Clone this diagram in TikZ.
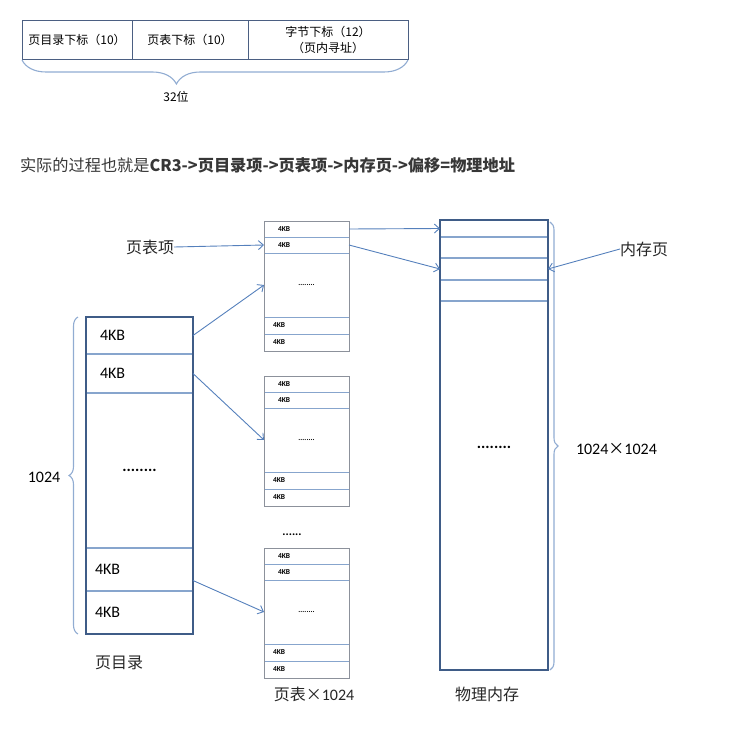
\documentclass[tikz,border=0pt]{standalone}
\usepackage{fontspec}
\setmainfont{Carlito}
\newfontfamily\cjk{Noto Sans CJK SC}
\usetikzlibrary{arrows.meta,decorations.pathreplacing,positioning}
\definecolor{framecol}{RGB}{63,92,135}
\definecolor{rowcol}{RGB}{135,165,205}
\definecolor{ptcol}{RGB}{140,145,155}
\definecolor{linkcol}{RGB}{85,128,188}
\definecolor{bracecol}{RGB}{145,172,210}
\definecolor{tablecol}{RGB}{75,95,130}
\definecolor{headcol}{RGB}{55,55,55}

\begin{document}
\begin{tikzpicture}
[x=1pt,y=-1pt,
 every node/.style={inner sep=0pt,outer sep=0pt},
 cell/.style={draw=tablecol,line width=0.8pt,minimum height=39pt,anchor=north west,align=center,font=\cjk\fontsize{12}{16}\selectfont},
 pdrow/.style={draw=rowcol,line width=1.2pt,minimum width=107pt,text width=79pt,align=left,font=\fontsize{16}{16}\selectfont},
 ptrow/.style={draw=rowcol,line width=1pt,minimum width=85pt,text width=61pt,align=left,font=\fontsize{7.5}{8}\selectfont\bfseries},
 pmrow/.style={draw=rowcol,line width=1.2pt,minimum width=108pt},
 pdframe/.style={draw=framecol,line width=1.8pt,minimum width=107pt},
 ptframe/.style={draw=ptcol,line width=1pt,minimum width=85pt},
 label/.style={font=\cjk\fontsize{16}{16}\selectfont,text=black!85},
 link/.style={draw=linkcol,line width=0.9pt,-{Straight Barb[length=5pt,width=9pt]}},
 bracket/.style={draw=bracecol,line width=1.1pt,decorate},
]
\useasboundingbox (0,0) rectangle (749,733);

% address layout
\node[cell,minimum width=110pt] (addr-a) at (22,20) {页目录下标（10）};
\node[cell,minimum width=116pt] (addr-b) at (addr-a.north east) {页表下标（10）};
\node[cell,minimum width=160pt] (addr-c) at (addr-b.north east) {字节下标（12）\\（页内寻址）};
\draw[bracket,decoration={brace,mirror,amplitude=24pt,aspect=0.4}]
  ([yshift=-1pt]addr-a.south west) -- ([yshift=-1pt]addr-c.south east);
\node[font=\cjk\fontsize{12}{12}\selectfont] (addr-bits) at (176,97) {32位};

\node[anchor=west,font=\cjk\fontsize{16.2}{18}\selectfont,text=headcol] (head) at (20,165)
  {实际的过程也就是\textbf{CR3->页目录项->页表项->内存页->偏移=物理地址}};

% page directory
\node[pdrow,minimum height=37pt,anchor=north] (pd-a) at (139.5,317) {4KB};
\node[pdrow,minimum height=39pt,below=0pt of pd-a] (pd-b) {4KB};
\node[pdrow,minimum height=155pt,below=0pt of pd-b,align=center] (pd-c) {\textbf{........}};
\node[pdrow,minimum height=43pt,below=0pt of pd-c] (pd-d) {\hspace*{-5pt}4KB};
\node[pdrow,minimum height=43pt,below=0pt of pd-d] (pd-e) {\hspace*{-5pt}4KB};
\node[pdframe,minimum height=317pt,anchor=north] (pd) at (139.5,317) {};
\draw[bracket,decoration={brace,amplitude=9pt}]
  ([xshift=-8pt]pd.south west) -- ([xshift=-8pt]pd.north west);
\node[font=\fontsize{16}{16}\selectfont] (pd-size) at (44,477) {1024};
\node[label] (pd-name) at (119,663) {页目录};

% page tables
\foreach \i/\ty in {1/221,2/376,3/548}{
  \node[ptrow,minimum height=16pt,anchor=north] (pt\i-a) at (306.5,\ty) {\hspace*{2pt}4KB};
  \node[ptrow,minimum height=16pt,below=0pt of pt\i-a] (pt\i-b) {\hspace*{2pt}4KB};
  \node[ptrow,minimum height=64pt,below=0pt of pt\i-b,align=center] (pt\i-c) {........};
  \node[ptrow,minimum height=17pt,below=0pt of pt\i-c] (pt\i-d) {\hspace*{-3pt}4KB};
  \node[ptrow,minimum height=17pt,below=0pt of pt\i-d] (pt\i-e) {\hspace*{-3pt}4KB};
  \node[ptframe,minimum height=130pt,anchor=north] (pt\i) at (306.5,\ty) {};
}
\node[font=\fontsize{12}{12}\selectfont\bfseries] (pt-more) at (292,535) {......};
\node[font=\fontsize{16}{16}\selectfont,text=black!85] (pt-name) at (314,694) {{\cjk 页表×}1024};

% physical memory
\node[pmrow,minimum height=17pt,anchor=north] (pm-a) at (494,220) {};
\node[pmrow,minimum height=21pt,below=0pt of pm-a] (pm-b) {};
\node[pmrow,minimum height=22pt,below=0pt of pm-b] (pm-c) {};
\node[pmrow,minimum height=21pt,below=0pt of pm-c] (pm-d) {};
\node[pmrow,minimum height=369pt,below=0pt of pm-d] (pm-e) {};
\node[pdframe,minimum width=108pt,minimum height=450pt,anchor=north] (pm) at (494,220) {};
\node[font=\fontsize{16}{16}\selectfont\bfseries] (pm-dots) at (494,447) {........};
\draw[bracket,decoration={brace,amplitude=8pt}]
  ([xshift=2pt,yshift=-2pt]pm.north east) -- ([xshift=2pt]pm.south east);
\node[anchor=west,font=\fontsize{16}{16}\selectfont] (pm-size) at (576,449) {1024{\cjk ×}1024};
\node[label] (pm-name) at (487,694) {物理内存};

% labels with arrows
\node[label] (pt-item) at (150,247) {页表项};
\node[label] (mem-page) at (644,249) {内存页};

\draw[link] (pt-item.east) -- (pt1-b.west);
\draw[link] (pd-a.east) -- (pt1-c.west);
\draw[link] (pd-b.east) -- (pt2-c.west);
\draw[link] ([yshift=-11pt]pd-d.east) -- (pt3-c.west);
\draw[link] (pt1-a.east) -- (pm-a.west);
\draw[link] (pt1-b.east) -- (pm-c.west);
\draw[link] (mem-page.west) -- (pm-c.east);
\end{tikzpicture}
\end{document}
